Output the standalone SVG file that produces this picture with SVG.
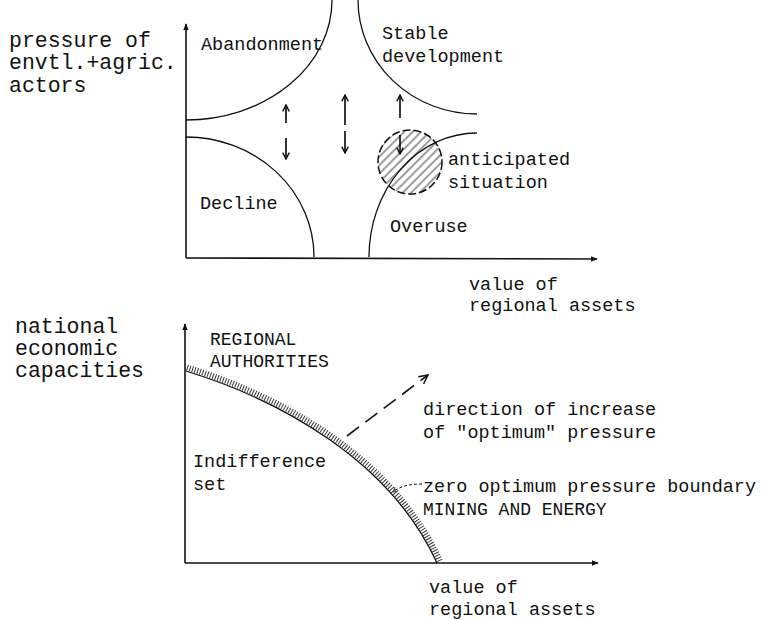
<svg xmlns="http://www.w3.org/2000/svg" width="766" height="620" viewBox="0 0 766 620">
<style>
  text { font-family: "Liberation Mono", "DejaVu Sans Mono", monospace; fill: #111; }
  .big { font-size: 21.5px; }
  .lab { font-size: 18.5px; }
  .cap { font-size: 18px; }
  .ax { stroke: #111; stroke-width: 1.6; fill: none; }
  .cv { stroke: #111; stroke-width: 1.3; fill: none; }
  .arr { stroke: #111; stroke-width: 1.7; fill: none; }
</style>
<defs>
  <marker id="axhead" viewBox="0 0 10 10" refX="9" refY="5" markerWidth="7" markerHeight="7" orient="auto" markerUnits="userSpaceOnUse">
    <path d="M0,1 L10,5 L0,9 Z" fill="#111"/>
  </marker>
  <marker id="small" viewBox="0 0 10 10" refX="9" refY="5" markerWidth="8" markerHeight="8" orient="auto" markerUnits="userSpaceOnUse">
    <path d="M1,1 L9,5 L1,9" fill="none" stroke="#111" stroke-width="1.8"/>
  </marker>
  <marker id="openv" viewBox="0 0 10 10" refX="9" refY="5" markerWidth="11" markerHeight="11" orient="auto" markerUnits="userSpaceOnUse">
    <path d="M1,1 L9,5 L1,9" fill="none" stroke="#111" stroke-width="1.3"/>
  </marker>
  <marker id="tiny" viewBox="0 0 10 10" refX="9" refY="5" markerWidth="6" markerHeight="6" orient="auto" markerUnits="userSpaceOnUse">
    <path d="M1,1 L9,5 L1,9" fill="none" stroke="#111" stroke-width="1.2"/>
  </marker>
  <pattern id="hatch" patternUnits="userSpaceOnUse" width="6" height="10" patternTransform="rotate(45)">
    <line x1="1" y1="0" x2="1" y2="10" stroke="#222" stroke-width="0.9"/>
  </pattern>
</defs>

<!-- Top chart -->
<g id="top-axes">
  <line class="ax" x1="186" y1="258" x2="186" y2="24" marker-end="url(#axhead)"/>
  <line class="ax" x1="186" y1="258" x2="597" y2="259" marker-end="url(#axhead)"/>
</g>
<g id="top-labels">
  <text class="big" x="9" y="47">pressure of</text>
  <text class="big" x="9" y="69">envtl.+agric.</text>
  <text class="big" x="9" y="92">actors</text>
  <text class="lab" x="469" y="290">value of</text>
  <text class="lab" x="469" y="311">regional assets</text>
</g>
<g id="abandonment">
  <path class="cv" d="M186,120 A146,120 0 0 0 332,0"/>
  <text class="lab" x="201" y="50">Abandonment</text>
</g>
<g id="stable-development">
  <path class="cv" d="M358,0 A119,114 0 0 0 477,114"/>
  <text class="lab" x="382" y="39">Stable</text>
  <text class="lab" x="382" y="62">development</text>
</g>
<g id="decline">
  <path class="cv" d="M186,137 A128,120 0 0 1 314,257"/>
  <text class="lab" x="200" y="209">Decline</text>
</g>
<g id="anticipated-situation">
  <circle cx="410" cy="162" r="32" fill="url(#hatch)" stroke="#111" stroke-width="1.5" stroke-dasharray="8 3"/>
  <text class="lab" x="448" y="165">anticipated</text>
  <text class="lab" x="448" y="188">situation</text>
</g>
<g id="overuse">
  <path class="cv" d="M369,257 A108,124 0 0 1 477,133"/>
  <text class="lab" x="390" y="232">Overuse</text>
</g>
<g id="connectors">
  <line class="arr" x1="286" y1="123" x2="286" y2="105" marker-end="url(#small)"/>
  <line class="arr" x1="286" y1="138" x2="286" y2="159" marker-end="url(#small)"/>
  <line class="arr" x1="345" y1="125" x2="345" y2="95" marker-end="url(#small)"/>
  <line class="arr" x1="345" y1="131" x2="345" y2="153" marker-end="url(#small)"/>
  <line class="arr" x1="400" y1="118" x2="400" y2="95" marker-end="url(#small)"/>
  <line class="arr" x1="400" y1="135" x2="400" y2="154" marker-end="url(#small)"/>
  <line stroke="#111" stroke-width="1.6" stroke-dasharray="15 8" x1="347" y1="436" x2="428" y2="375" marker-end="url(#openv)"/>
  <path d="M422,484 C410,484 400,486 393,492" fill="none" stroke="#111" stroke-width="1" stroke-dasharray="3 2" marker-end="url(#tiny)"/>
</g>

<!-- Bottom chart -->
<g id="bottom-axes">
  <line class="ax" x1="185" y1="563" x2="185" y2="324" marker-end="url(#axhead)"/>
  <line class="ax" x1="185" y1="563" x2="598" y2="563" marker-end="url(#axhead)"/>
</g>
<g id="bottom-labels">
  <text class="big" x="15" y="333">national</text>
  <text class="big" x="15" y="355">economic</text>
  <text class="big" x="15" y="377">capacities</text>
  <text class="lab" x="429" y="593">value of</text>
  <text class="lab" x="429" y="615">regional assets</text>
</g>
<g id="regional-authorities">
  <text class="cap" x="210" y="345">REGIONAL</text>
  <text class="cap" x="210" y="367">AUTHORITIES</text>
</g>
<g id="boundary">
  <path d="M187,367.5 C282,396.5 393,457.5 440.5,562" fill="none" stroke="#333" stroke-width="6" stroke-dasharray="1 1.7"/>
  <path class="cv" d="M186,371 C280,400 390,460 437,563"/>
</g>
<g id="indifference-set">
  <text class="lab" x="193" y="467">Indifference</text>
  <text class="lab" x="193" y="490">set</text>
</g>
<g id="direction">
  <text class="lab" x="423" y="415">direction of increase</text>
  <text class="lab" x="423" y="438">of "optimum" pressure</text>
</g>
<g id="zero-boundary">
  <text class="lab" x="423" y="492">zero optimum pressure boundary</text>
  <text class="cap" x="423" y="515">MINING AND ENERGY</text>
</g>
</svg>
